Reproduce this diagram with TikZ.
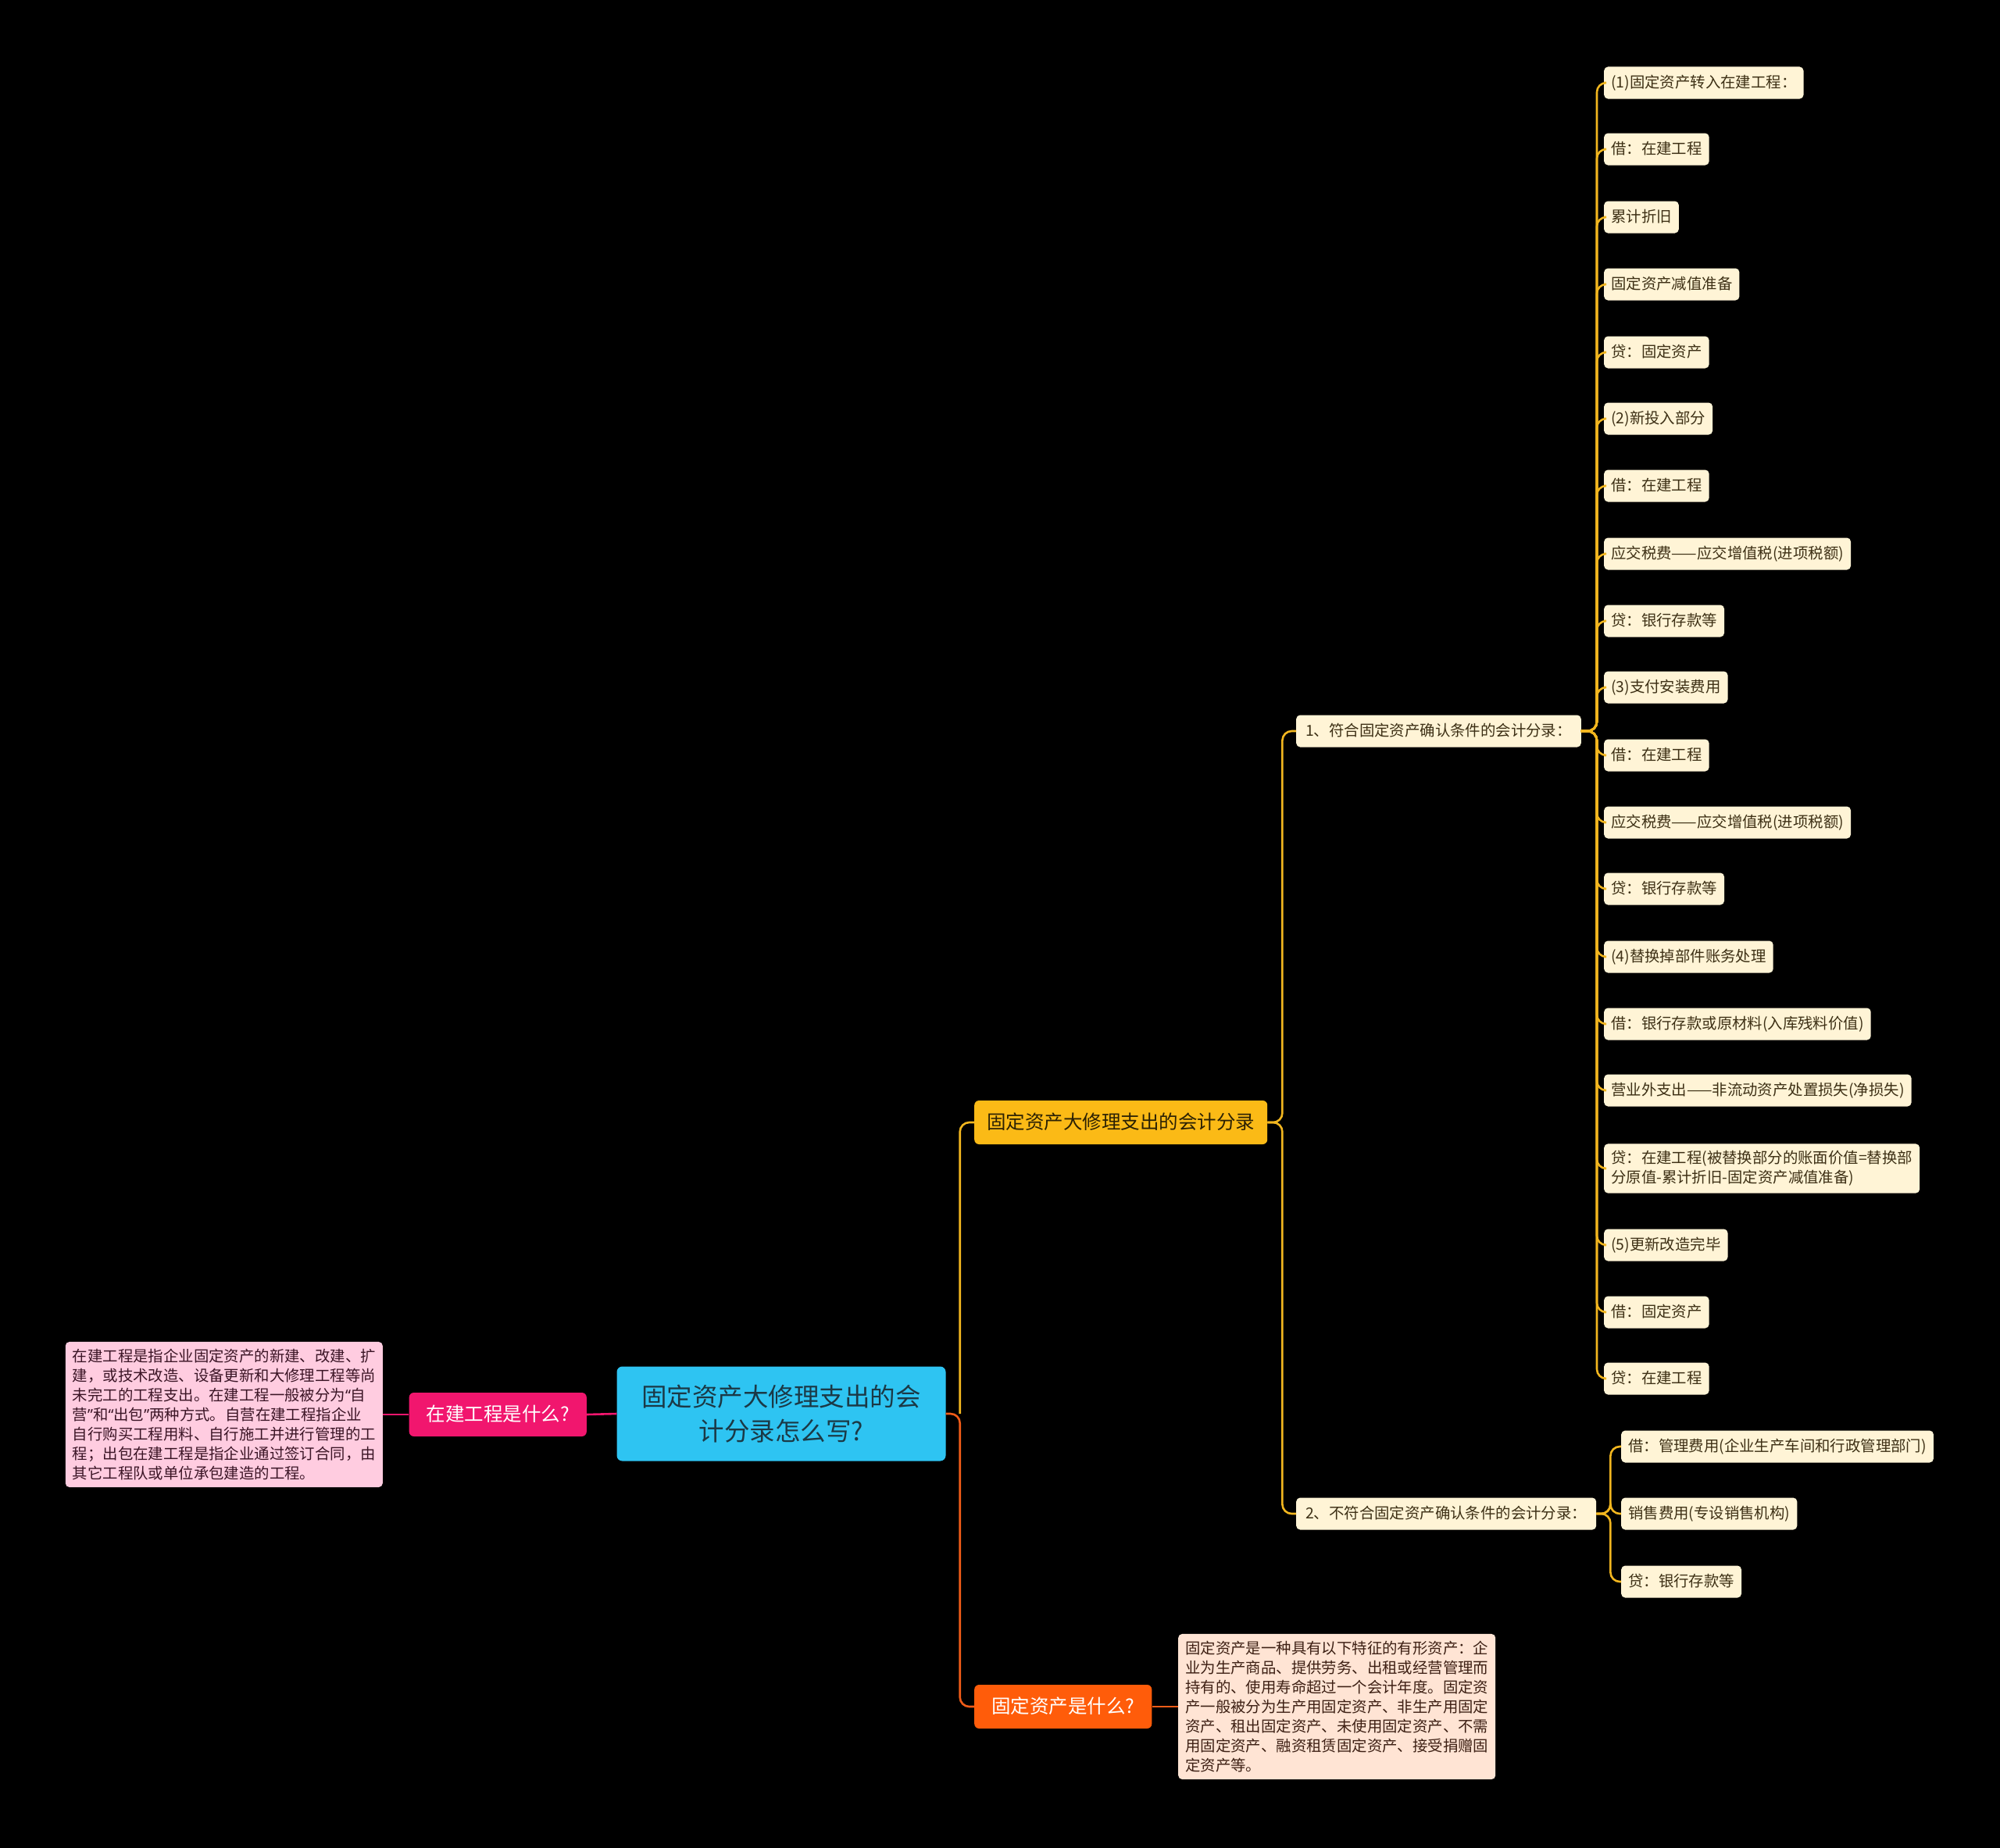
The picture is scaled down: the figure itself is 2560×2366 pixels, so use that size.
\documentclass[tikz,border=0pt]{standalone}
\usepackage{fontspec}
\newfontfamily\cjk{Noto Sans CJK SC}
\newfontfamily\quotefont{Noto Sans}
\newcommand\openq{{\quotefont “}}
\newcommand\closeq{{\quotefont ”}}
\usetikzlibrary{positioning}
\definecolor{rootbg}{HTML}{2EC4F2}
\definecolor{roottext}{HTML}{1B3946}
\definecolor{topicbg}{HTML}{FBBA16}
\definecolor{topictext}{HTML}{2B2104}
\definecolor{yline}{HTML}{F2B61F}
\definecolor{leafbg}{HTML}{FFF4D6}
\definecolor{leaftext}{HTML}{3D3015}
\definecolor{pinkbg}{HTML}{F1166E}
\definecolor{pinknote}{HTML}{FFCCE0}
\definecolor{pinktext}{HTML}{3B1526}
\definecolor{orangebg}{HTML}{FF5C0A}
\definecolor{oline}{HTML}{F05C18}
\definecolor{peachnote}{HTML}{FFE4D4}
\definecolor{peachtext}{HTML}{3D2014}
\tikzset{
  small/.style={font=\cjk\fontsize{19.4}{25}\selectfont},
  big/.style={font=\cjk\fontsize{24.5}{30}\selectfont, text height=20pt, text depth=4pt, inner ysep=16pt, inner xsep=16pt, rounded corners=6pt},
  leaf/.style={small, fill=leafbg, text=leaftext, rounded corners=5pt, inner xsep=9pt, inner ysep=11pt, text height=16pt, text depth=3pt, anchor=west},
  leaftwo/.style={small, fill=leafbg, text=leaftext, rounded corners=5pt, inner xsep=9pt, inner ysep=9pt, align=left, anchor=west},
  note/.style={small, rounded corners=5pt, inner xsep=9pt, inner ysep=9pt, align=left},
  ylink/.style={draw=yline, line width=2.6pt, rounded corners=12pt},
  olink/.style={draw=oline, line width=2.6pt, rounded corners=12pt},
  plink/.style={draw=pinkbg, line width=2.6pt}
}
\begin{document}
\begin{tikzpicture}[x=1pt,y=-1pt]
\fill[black] (0,0) rectangle (2560,2366);
\useasboundingbox (0,0) rectangle (2560,2366);

% centre
\node[fill=rootbg, text=roottext, rounded corners=7pt, align=center, minimum width=421pt, minimum height=121pt,
      font=\cjk\fontsize{32.5}{44}\selectfont] (root) at (1000,1810) {固定资产大修理支出的会\\计分录怎么写?};

% left side
\node[big, fill=pinkbg, text=white, anchor=east, inner xsep=22pt] (what) at (751,1811) {在建工程是什么?};
\node[note, fill=pinknote, text=pinktext, anchor=east] (whatnote) at (490,1811) {在建工程是指企业固定资产的新建、改建、扩\\建，或技术改造、设备更新和大修理工程等尚\\未完工的工程支出。在建工程一般被分为\openq 自\\营\closeq 和\openq 出包\closeq 两种方式。自营在建工程指企业\\自行购买工程用料、自行施工并进行管理的工\\程；出包在建工程是指企业通过签订合同，由\\其它工程队或单位承包建造的工程。};

% right side
\node[big, fill=topicbg, text=topictext, anchor=west] (topic) at (1247,1437) {固定资产大修理支出的会计分录};
\node[big, fill=orangebg, text=white, anchor=west, inner xsep=22pt] (asset) at (1247,2185) {固定资产是什么?};
\node[note, fill=peachnote, text=peachtext, anchor=west] (assetnote) at (1508,2185) {固定资产是一种具有以下特征的有形资产：企\\业为生产商品、提供劳务、出租或经营管理而\\持有的、使用寿命超过一个会计年度。固定资\\产一般被分为生产用固定资产、非生产用固定\\资产、租出固定资产、未使用固定资产、不需\\用固定资产、融资租赁固定资产、接受捐赠固\\定资产等。};

\node[leaf, inner xsep=12pt] (g1) at (1659,936) {1、符合固定资产确认条件的会计分录：};
\node[leaf, inner xsep=12pt] (g2) at (1659,1938) {2、不符合固定资产确认条件的会计分录：};

\node[leaf] (l1) at (2053,106) {(1)固定资产转入在建工程：};
\node[leaf] (l2) at (2053,191) {借：在建工程};
\node[leaf] (l3) at (2053,278) {累计折旧};
\node[leaf] (l4) at (2053,364) {固定资产减值准备};
\node[leaf] (l5) at (2053,451) {贷：固定资产};
\node[leaf] (l6) at (2053,536) {(2)新投入部分};
\node[leaf] (l7) at (2053,622) {借：在建工程};
\node[leaf] (l8) at (2053,709) {应交税费——应交增值税(进项税额)};
\node[leaf] (l9) at (2053,795) {贷：银行存款等};
\node[leaf] (l10) at (2053,880) {(3)支付安装费用};
\node[leaf] (l11) at (2053,967) {借：在建工程};
\node[leaf] (l12) at (2053,1053) {应交税费——应交增值税(进项税额)};
\node[leaf] (l13) at (2053,1138) {贷：银行存款等};
\node[leaf] (l14) at (2053,1225) {(4)替换掉部件账务处理};
\node[leaf] (l15) at (2053,1311) {借：银行存款或原材料(入库残料价值)};
\node[leaf] (l16) at (2053,1396) {营业外支出——非流动资产处置损失(净损失)};
\node[leaftwo] (l17) at (2053,1496) {贷：在建工程(被替换部分的账面价值=替换部\\分原值-累计折旧-固定资产减值准备)};
\node[leaf] (l18) at (2053,1594) {(5)更新改造完毕};
\node[leaf] (l19) at (2053,1680) {借：固定资产};
\node[leaf] (l20) at (2053,1765) {贷：在建工程};

\node[leaf] (m1) at (2075,1852) {借：管理费用(企业生产车间和行政管理部门)};
\node[leaf] (m2) at (2075,1938) {销售费用(专设销售机构)};
\node[leaf] (m3) at (2075,2025) {贷：银行存款等};

% links
\draw[plink] (root.west) -- (what.east);
\draw[plink] (what.west) -- (whatnote.east);
\draw[olink] (root.east) -- ++(18,0) |- (asset.west);
\draw[ylink] ([xshift=18pt]root.east) |- (topic.west);
\draw[olink] (asset.east) -- (assetnote.west);
\draw[ylink] (topic.east) -- ++(19,0) |- (g1.west);
\draw[ylink] (topic.east) -- ++(19,0) |- (g2.west);
\foreach \i in {1,...,20}
  \draw[ylink] (g1.east) -- ++(20,0) |- (l\i.west);
\foreach \i in {1,2,3}
  \draw[ylink] (g2.east) -- ++(18,0) |- (m\i.west);
\end{tikzpicture}
\end{document}
